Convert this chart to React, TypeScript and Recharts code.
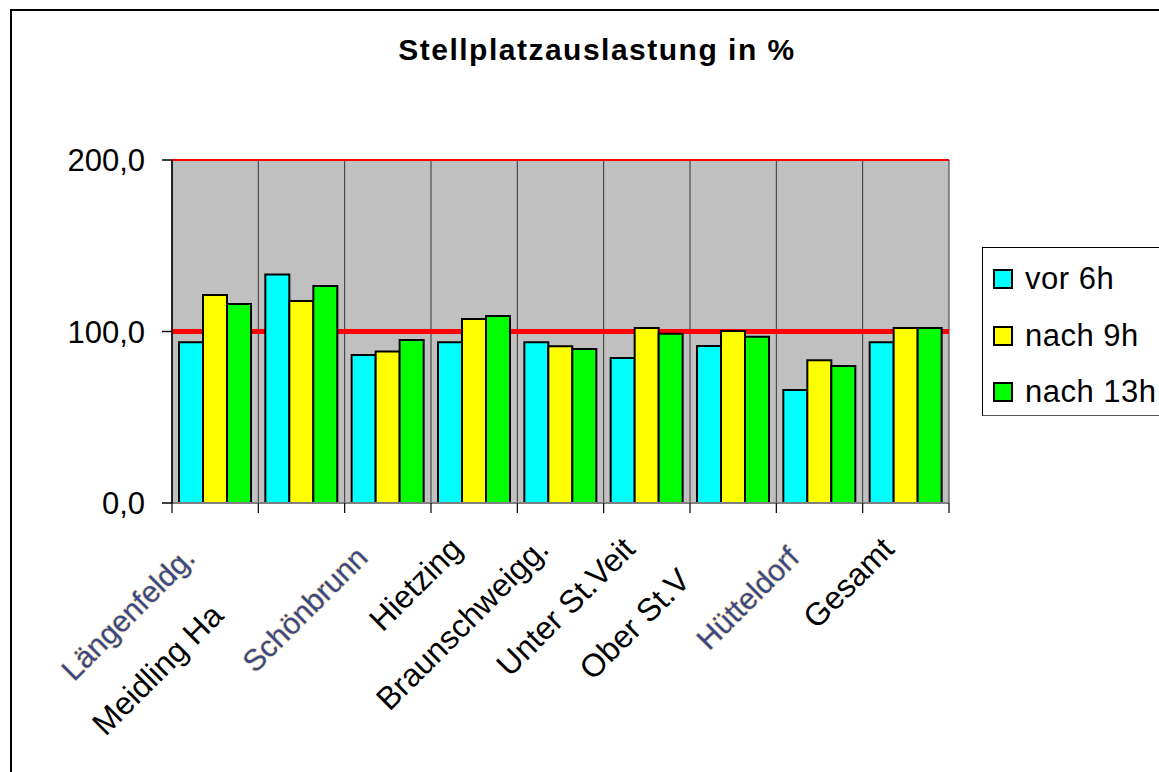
import { BarChart, Bar, XAxis, YAxis, CartesianGrid } from "recharts";

const categories = [
  "Längenfeldg.",
  "Meidling Ha",
  "Schönbrunn",
  "Hietzing",
  "Braunschweigg.",
  "Unter St.Veit",
  "Ober St.V",
  "Hütteldorf",
  "Gesamt",
];
const vor6h = [93.7, 133.3, 86.3, 93.7, 93.7, 84.5, 91.5, 65.9, 93.7];
const nach9h = [121.3, 117.8, 88.4, 107.3, 91.4, 102.0, 100.3, 83.2, 102.0];
const nach13h = [116.0, 126.5, 95.0, 109.0, 89.8, 98.7, 97.0, 79.9, 102.0];
const yTicks = [0, 100, 200];
const yMax = 200;
const targetLine = 100;
const seriesNames = ["vor 6h", "nach 9h", "nach 13h"];
const seriesColors = ["#00FFFF", "#FFFF00", "#00FF00"];

const data = categories.map((name, i) => ({
  name,
  vor6h: vor6h[i],
  nach9h: nach9h[i],
  nach13h: nach13h[i],
}));

// labels that came out blurry / cut off in the original
const blurry = ["Längenfeldg.", "Schönbrunn", "Hütteldorf"];
const shift: Record<string, number> = { "Meidling Ha": -94, "Ober St.V": -44 };

const FONT = '"Liberation Sans", Arial, sans-serif';
const PLOT_W = 1159 - 72 - 100 - 210;

function CategoryTick({ x, y, payload, index, visibleTicksCount }: any) {
  const label = payload.value as string;
  const isBlurry = blurry.includes(label);
  const half = payload.offset || PLOT_W / categories.length / 2;
  const last = index === (visibleTicksCount ?? categories.length) - 1;
  return (
    <g>
      <line x1={x - half} x2={x - half} y1={y} y2={y + 10} stroke="#000" strokeWidth={1.2} />
      {last && <line x1={x + half} x2={x + half} y1={y} y2={y + 10} stroke="#000" strokeWidth={1.2} />}
      <g transform={`translate(${x - 10},${y + 48})`}>
        <text
          transform="rotate(-45)"
          textAnchor="end"
          x={shift[label] || (isBlurry ? -12 : 0)}
          y={0}
          fontSize={isBlurry ? 30 : 32}
          fontFamily={FONT}
          fill={isBlurry ? "#34488a" : "#000"}
          stroke={isBlurry ? "#f3d9a8" : "none"}
          strokeWidth={isBlurry ? 1.5 : 0}
          paintOrder="stroke"
        >
          {label}
        </text>
      </g>
    </g>
  );
}

// category boundaries: plot left edge + one band per category
const boundaries = ({ offset }: any) =>
  [...categories.map((_, i) => i), categories.length].map(
    (i) => offset.left + (offset.width * i) / categories.length
  );

const lineAt = (v: number) => ({ yAxis, offset }: any) => {
  const s = yAxis && yAxis.scale;
  if (typeof s === "function") return [s(v)];
  if (s && typeof s.map === "function") {
    const r = s.map(v);
    if (typeof r === "number") return [r];
  }
  return [offset.top + offset.height * (1 - v / yMax)];
};

export default function App() {
  return (
    <div
      style={{
        position: "absolute",
        left: 0,
        top: 0,
        width: 1159,
        height: 772,
        overflow: "hidden",
        background: "#fff",
        fontFamily: FONT,
      }}
    >
      <div
        style={{
          position: "absolute",
          left: 10,
          top: 9,
          width: 1300,
          height: 900,
          border: "2px solid #000",
        }}
      />
      <div
        style={{
          position: "absolute",
          left: 0,
          top: 33,
          width: 1194,
          textAlign: "center",
          fontSize: 30,
          fontWeight: "bold",
          letterSpacing: 1.5,
        }}
      >
        Stellplatzauslastung in %
      </div>
      <div style={{ position: "absolute", left: 0, top: 0 }}>
        <BarChart
          width={1159}
          height={772}
          data={data}
          margin={{ top: 160, right: 210, bottom: 69, left: 72 }}
          barCategoryGap={7}
          barGap={0}
        >
          <CartesianGrid
            horizontal={false}
            vertical
            verticalCoordinatesGenerator={boundaries}
            stroke="#333"
            strokeWidth={1}
            fill="#C0C0C0"
            fillOpacity={1}
          />
          <CartesianGrid
            vertical={false}
            horizontalCoordinatesGenerator={lineAt(yMax)}
            stroke="#FF0000"
            strokeWidth={2}
          />
          <CartesianGrid
            vertical={false}
            horizontalCoordinatesGenerator={lineAt(targetLine)}
            stroke="#FF0000"
            strokeWidth={5}
          />
          <XAxis
            dataKey="name"
            interval={0}
            height={200}
            axisLine={{ stroke: "#808080", strokeWidth: 2 }}
            tickLine={false}
            tickSize={0}
            tickMargin={0}
            tick={<CategoryTick />}
          />
          <YAxis
            domain={[0, yMax]}
            ticks={yTicks}
            width={100}
            tickSize={10}
            tickMargin={17}
            tickFormatter={(v: number) => v.toFixed(1).replace(".", ",")}
            tick={{ fontSize: 31, fill: "#000", fontFamily: FONT }}
            axisLine={{ stroke: "#000", strokeWidth: 1.5 }}
            tickLine={{ stroke: "#000", strokeWidth: 1.5 }}
          />
          <Bar dataKey="vor6h" name={seriesNames[0]} fill={seriesColors[0]} stroke="#000" strokeWidth={2} isAnimationActive={false} />
          <Bar dataKey="nach9h" name={seriesNames[1]} fill={seriesColors[1]} stroke="#000" strokeWidth={2} isAnimationActive={false} />
          <Bar dataKey="nach13h" name={seriesNames[2]} fill={seriesColors[2]} stroke="#000" strokeWidth={2} isAnimationActive={false} />
        </BarChart>
      </div>
      <div
        style={{
          position: "absolute",
          left: 982,
          top: 247,
          width: 300,
          height: 167,
          border: "1.5px solid #000",
          borderBottomColor: "#555",
          background: "#fff",
        }}
      >
        {seriesNames.map((n, i) => (
          <div
            key={n}
            style={{
              position: "absolute",
              left: 10,
              top: 16 + i * 56.5,
              height: 30,
              display: "flex",
              alignItems: "center",
              fontSize: 31,
              letterSpacing: 0.5,
              whiteSpace: "nowrap",
            }}
          >
            <span
              style={{
                display: "inline-block",
                width: 16,
                height: 16,
                background: seriesColors[i],
                border: "2px solid #000",
                marginRight: 12,
              }}
            />
            {n}
          </div>
        ))}
      </div>
    </div>
  );
}
